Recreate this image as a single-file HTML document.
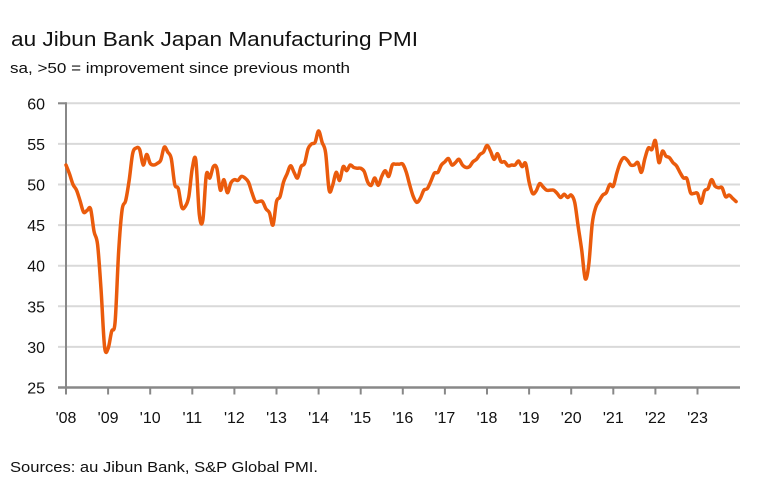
<!DOCTYPE html>
<html><head><meta charset="utf-8"><style>
html,body{margin:0;padding:0;background:#fff;}
svg{display:block;font-family:"Liberation Sans",sans-serif;}
</style></head><body>
<svg id="chart" width="771" height="500" viewBox="0 0 771 500">
<text x="11" y="46" font-size="20" fill="#111" textLength="407" lengthAdjust="spacingAndGlyphs">au Jibun Bank Japan Manufacturing PMI</text>
<text x="10" y="73" font-size="15" fill="#111" textLength="340" lengthAdjust="spacingAndGlyphs">sa, &gt;50 = improvement since previous month</text>
<g id="grid"></g>
<g id="yticks"></g>
<g id="xaxis"></g>
<g id="series"></g>
<text x="10" y="472" font-size="15" fill="#111" textLength="308" lengthAdjust="spacingAndGlyphs">Sources: au Jibun Bank, S&amp;P Global PMI.</text>
</svg>
<script>
const yTicks = [25,30,35,40,45,50,55,60];
const xLabels = ["'08","'09","'10","'11","'12","'13","'14","'15","'16","'17","'18","'19","'20","'21","'22","'23"];
const startYear = 2008;
const pmi = [
52.4,51.3,50.0,49.3,48.0,46.6,46.8,47.0,44.2,42.6,37.0,30.0,
29.8,31.9,33.1,41.7,46.9,48.0,50.5,53.8,54.5,54.3,52.4,53.7,
52.6,52.4,52.6,53.0,54.6,54.0,53.2,50.0,49.5,47.2,47.3,48.5,
52.0,53.0,46.3,45.6,51.2,50.8,52.2,52.0,49.3,50.6,49.0,50.2,
50.6,50.5,51.0,50.8,50.3,49.0,47.9,47.9,47.9,47.0,46.5,45.0,
47.9,48.5,50.3,51.3,52.3,51.5,50.8,52.2,52.6,54.4,55.0,55.2,
56.6,55.2,53.9,49.3,49.9,51.5,50.5,52.2,51.7,52.4,52.1,52.0,
52.0,51.6,50.3,49.9,50.8,49.9,51.0,51.7,51.0,52.4,52.5,52.5,
52.5,51.5,49.9,48.5,47.8,48.3,49.3,49.5,50.4,51.4,51.5,52.4,
52.8,53.2,52.4,52.7,53.1,52.4,52.1,52.2,52.8,53.1,53.7,54.0,
54.8,54.1,53.1,53.8,52.8,52.8,52.3,52.4,52.4,52.9,52.2,52.6,
50.3,48.9,49.2,50.1,49.7,49.3,49.3,49.3,48.9,48.4,48.8,48.4,
48.7,47.8,44.8,41.9,38.4,40.1,45.2,47.2,48.0,48.7,49.0,50.0,
49.8,51.4,52.7,53.3,53.0,52.4,52.4,52.7,51.5,53.2,54.5,54.3,
55.4,52.7,54.1,53.5,53.3,52.7,52.3,51.5,50.8,50.7,49.0,48.9,
48.9,47.7,49.2,49.5,50.6,49.8,49.6,49.6,48.5,48.7,48.3,47.9];

const NS="http://www.w3.org/2000/svg";
const X0=66, PX_PER_YEAR=42.1, Y25=387.5, Y60=103.3;
function xScale(monthIndex){return X0+monthIndex*PX_PER_YEAR/12;}
function yScale(v){return Y25-(v-25)*(Y25-Y60)/35;}
function mk(tag,attrs,parent){const e=document.createElementNS(NS,tag);for(const k in attrs)e.setAttribute(k,attrs[k]);parent.appendChild(e);return e;}

const grid=document.getElementById('grid'), yt=document.getElementById('yticks'), xa=document.getElementById('xaxis'), ser=document.getElementById('series');
yTicks.forEach(v=>{
  const y=yScale(v);
  if(v!==25){
    const l=mk('line',{x1:58,x2:740,y1:y,y2:y,stroke:'#d9d9d9','stroke-width':2},grid);
    
    
  }
  const t=mk('text',{x:45,y:y+6,'font-size':16,'text-anchor':'end',fill:'#111'},yt);
  t.textContent=v;
  
  
});
const ya=mk('line',{x1:66,x2:66,y1:Y60-1,y2:Y25,stroke:'#888','stroke-width':2},xa);


const t60=mk('line',{x1:58,x2:66,y1:Y60,y2:Y60,stroke:'#888','stroke-width':2},xa);


const xl=mk('line',{x1:58,x2:740,y1:Y25,y2:Y25,stroke:'#888','stroke-width':2.5},xa);


xLabels.forEach((lab,i)=>{
  const x=xScale(i*12);
  const tk=mk('line',{x1:x,x2:x,y1:Y25,y2:Y25+7,stroke:'#888','stroke-width':2},xa);
  
  
  const t=mk('text',{x:x,y:423,'font-size':16,'text-anchor':'middle',fill:'#111'},xa);
  t.textContent=lab;
  
  
});
// smooth Catmull-Rom path
const pts=pmi.map((v,i)=>[xScale(i),yScale(v)]);
let d='M'+pts[0][0].toFixed(2)+','+pts[0][1].toFixed(2);
for(let i=0;i<pts.length-1;i++){
  const p0=pts[Math.max(0,i-1)],p1=pts[i],p2=pts[i+1],p3=pts[Math.min(pts.length-1,i+2)];
  const t=1/6;
  const c1=[p1[0]+(p2[0]-p0[0])*t,p1[1]+(p2[1]-p0[1])*t];
  const c2=[p2[0]-(p3[0]-p1[0])*t,p2[1]-(p3[1]-p1[1])*t];
  d+='C'+c1[0].toFixed(2)+','+c1[1].toFixed(2)+' '+c2[0].toFixed(2)+','+c2[1].toFixed(2)+' '+p2[0].toFixed(2)+','+p2[1].toFixed(2);
}
const p=mk('path',{d:d,fill:'none',stroke:'#ea5b0c','stroke-width':3.5,'stroke-linejoin':'round','stroke-linecap':'round'},ser);


</script>
</body></html>
